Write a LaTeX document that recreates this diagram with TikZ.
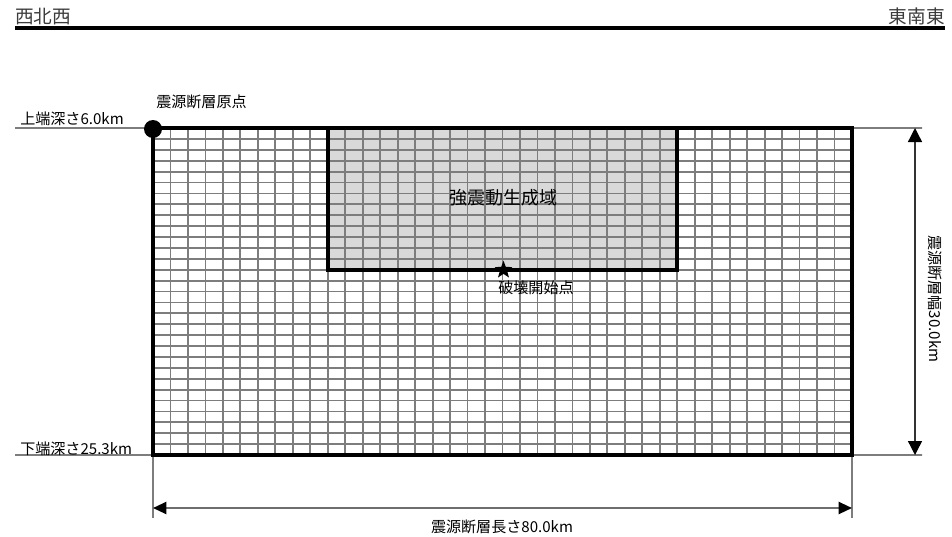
\documentclass[tikz,border=0pt]{standalone}
\usepackage{fontspec}
\setmainfont{Noto Sans CJK JP}
\usetikzlibrary{arrows.meta,shapes.geometric}
\definecolor{gridgray}{RGB}{125,125,125}
\definecolor{smgafill}{RGB}{217,217,217}
\definecolor{headtext}{RGB}{60,60,60}
\definecolor{dimgray}{RGB}{110,110,110}
\tikzset{
  gridline/.style={draw=gridgray, line width=1.35pt},
  extline/.style={draw=gridgray, line width=1.4pt, dash pattern=on 1.2pt off 0.3pt},
  border/.style={draw=black, line width=2.3pt},
  lbl/.style={inner sep=0pt, font=\fontsize{11.3}{13}\selectfont},
  headlbl/.style={inner sep=0pt, font=\fontsize{14}{15}\selectfont, text=headtext},
  biglbl/.style={inner sep=0pt, font=\fontsize{13.5}{15}\selectfont},
  hdim/.style={draw=dimgray, line width=1.6pt, {Triangle[length=10pt,width=9pt,color=black]}-{Triangle[length=10pt,width=9pt,color=black]}},
  vdim/.style={draw=black!80, line width=1pt, {Triangle[length=10.5pt,width=10.5pt,color=black]}-{Triangle[length=10.5pt,width=10.5pt,color=black]}},
}
\begin{document}
\begin{tikzpicture}[x=0.75pt,y=-0.75pt]
\useasboundingbox (0,0) rectangle (952,536);
% named corners
\coordinate (TL) at (153,128);
\coordinate (TR) at (852,128);
\coordinate (BL) at (153,455);
\coordinate (BR) at (852,455);
\coordinate (S1) at (328,128);
\coordinate (S2) at (677,270);
\coordinate (HS) at (15,28);
\coordinate (HE) at (945,28);
% header
\node[headlbl, anchor=west] (wnw) at (15,16.5) {西北西};
\node[headlbl, anchor=east] (ese) at (945,16.5) {東南東};
\draw[line width=2.3pt] (HS) -- (HE);
% SMGA fill
\fill[smgafill] (S1) rectangle (S2);
% grid
\foreach \i in {1,...,39} {
  \draw[gridline] ({153+\i*17.475},128) -- ({153+\i*17.475},455);
}
\foreach \j in {1,...,29} {
  \draw[gridline] (153,{128+\j*10.9}) -- (852,{128+\j*10.9});
}
% extension lines
\coordinate (LT) at (15,128);
\coordinate (LB) at (15,455);
\coordinate (RT) at (922,128);
\coordinate (RB) at (922,455);
\coordinate (DL) at (153,518);
\coordinate (DR) at (852,518);
\draw[extline] (LT) -- (TL);
\draw[extline] (LB) -- (BL);
\draw[extline] (TR) -- (RT);
\draw[extline] (BR) -- (RB);
\draw[extline] (BL) -- (DL);
\draw[extline] (BR) -- (DR);
% borders
\draw[border] (S1) rectangle (S2);
\draw[border] (TL) rectangle (BR);
% origin point
\fill[black] (153,129) circle (9);
\node[lbl, anchor=west] (orig) at (156,102) {震源断層原点};
% depth labels
\node[lbl, anchor=west] (top) at (20,119) {上端深さ6.0km};
\node[lbl, anchor=west] (bot) at (20,449) {下端深さ25.3km};
% SMGA label
\node[biglbl] (smga) at (503,198) {強震動生成域};
% hypocenter
\node[star, star points=5, star point ratio=2.4, fill=black, inner sep=0pt, minimum size=14] (hypo) at (503.5,270) {};
\node[lbl] (hypolbl) at (536,288) {破壊開始点};
% length dimension
\coordinate (AL) at (153,508);
\coordinate (AR) at (852,508);
\draw[hdim] (AL) -- (AR);
\node[lbl] (len) at (502,526.5) {震源断層長さ80.0km};
% width dimension
\coordinate (AT) at (915,128);
\coordinate (AB) at (915,455);
\draw[vdim] (AT) -- (AB);
\node[lbl, rotate=-90] (wid) at (935.5,299) {震源断層幅30.0km};
\end{tikzpicture}
\end{document}
